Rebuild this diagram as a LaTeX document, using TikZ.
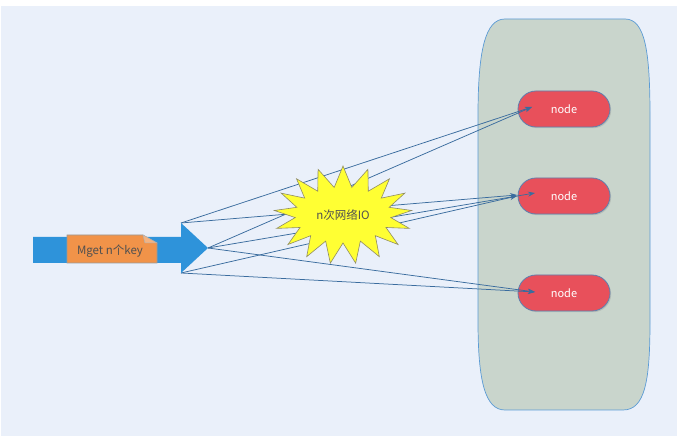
\documentclass[tikz,border=0pt]{standalone}
\usepackage{fontspec}
\setmainfont{Noto Sans CJK SC}
\usetikzlibrary{arrows.meta,shapes.misc,shapes.symbols,shadows,calc}
\definecolor{mgBack}{HTML}{EAF0FA}
\definecolor{mgCluster}{HTML}{C9D5CC}
\definecolor{mgEdge}{HTML}{5B9BD5}
\definecolor{mgRed}{HTML}{E8505B}
\definecolor{mgRedEdge}{HTML}{5F7FAE}
\definecolor{mgLink}{HTML}{3A6C9E}
\definecolor{mgArrow}{HTML}{2E93DA}
\definecolor{mgOrange}{HTML}{F19349}
\definecolor{mgStar}{HTML}{FFFF33}
\definecolor{mgText}{HTML}{505050}
\tikzset{
  mg cluster/.style={fill=mgCluster, draw=mgEdge, line width=0.7pt},
  mg node/.style={rounded rectangle, fill=mgRed, draw=mgRedEdge, line width=0.8pt,
    minimum width=92pt, minimum height=36pt, inner sep=0pt, text=white,
    font=\fontsize{11}{13}\selectfont,
    drop shadow={shadow xshift=1.2pt, shadow yshift=-1.2pt, opacity=0.25}},
  mg link/.style={draw=mgLink, line width=0.75pt, -{Stealth[length=7pt,width=5pt]}},
  mg star/.style={starburst, starburst points=17, starburst point height=21pt,
    random starburst=0, fill=mgStar, draw=gray!70!olive, line width=0.6pt,
    minimum width=138pt, minimum height=98pt, inner sep=0pt, text=mgText,
    font=\fontsize{11.5}{13}\selectfont},
  mg note/.style={fill=mgOrange, draw=gray!80, line width=0.6pt},
  mg label/.style={text=mgText, font=\fontsize{11.5}{13}\selectfont},
}
\begin{document}
\begin{tikzpicture}[x=1pt, y=1pt]
  \useasboundingbox (0,0) rectangle (677,436);
  % Page background
  \fill[white] (0,0) rectangle (677,436);
  \fill[mgBack] (1,0) rectangle (677,430);
  % Cluster frame
  \path[mg cluster] (505,417) -- (625,417)
    .. controls (645,417) and (650,385) .. (650,320) -- (650,115)
    .. controls (650,55) and (645,26) .. (623,26) -- (505,26)
    .. controls (485,26) and (478,55) .. (478,115) -- (478,320)
    .. controls (478,385) and (485,417) .. (505,417) -- cycle;
  % Cluster members
  \node[mg node] (n1) at (564,327) {node};
  \node[mg node] (n2) at (564,240) {node};
  \node[mg node] (n3) at (564,143) {node};
  % Corners of the request arrow head
  \coordinate (hdTop) at (181,213);
  \coordinate (hdTip) at (208,188);
  \coordinate (hdBot) at (181,163);
  % One request per key
  \draw[mg link] (hdTop) -- ($(n1.center)+(-32,2)$);
  \draw[mg link] (hdTip) -- ($(n1.center)+(-32,2)$);
  \draw[mg link] (hdTop) -- ($(n2.center)+(-47,1)$);
  \draw[mg link] (hdTip) -- ($(n2.center)+(-29,3)$);
  \draw[mg link] (hdBot) -- ($(n2.center)+(-47,0)$);
  \draw[mg link] (hdTip) -- ($(n3.center)+(-29,1)$);
  \draw[mg link] (hdBot) -- ($(n3.center)+(-29,1)$);
  % Network round trips
  \node[mg star] (io) at (343,221) {n次网络IO};
  % Request arrow
  \fill[mgArrow] (33,199) -- (181,199) -- (hdTop) -- (hdTip) -- (hdBot)
    -- (181,173) -- (33,173) -- cycle;
  % Command note with folded corner
  \coordinate (noteC) at (112,187);
  \path[mg note] ($(noteC)+(-45,14)$) -- ($(noteC)+(31,14)$) -- ($(noteC)+(45,6)$)
    -- ($(noteC)+(45,-14)$) -- ($(noteC)+(-45,-14)$) -- cycle;
  \path[fill=mgOrange!70!white, draw=gray!60, line width=0.5pt]
    ($(noteC)+(31,14)$) -- ($(noteC)+(33,6)$) -- ($(noteC)+(45,6)$) -- cycle;
  \node[mg label] (note) at ($(noteC)+(-2,-2)$) {Mget n个key};
\end{tikzpicture}
\end{document}
